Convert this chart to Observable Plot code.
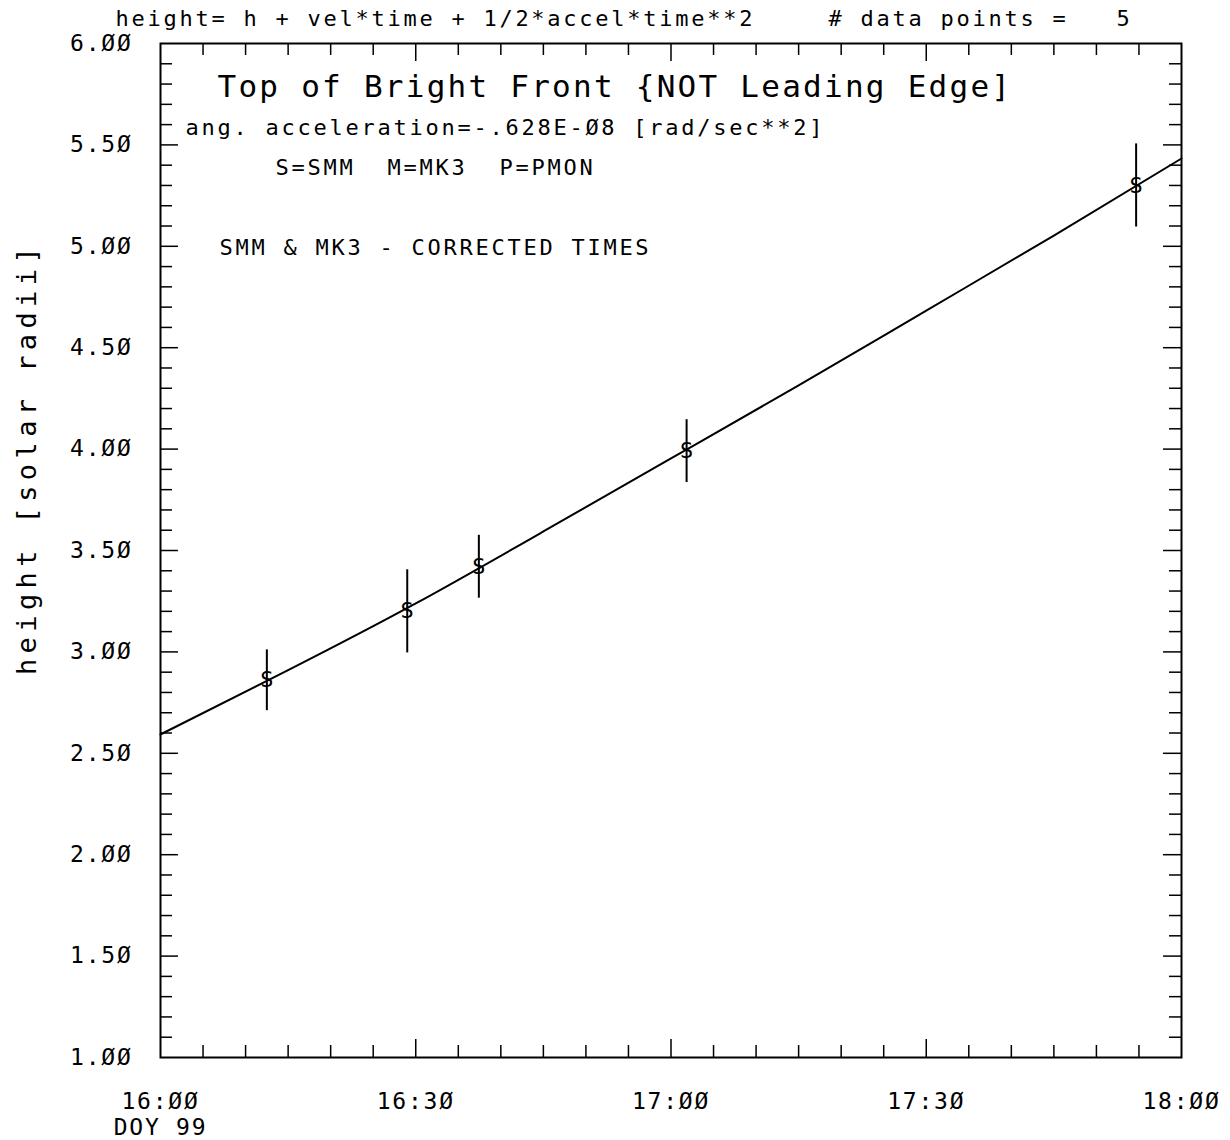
<!DOCTYPE html>
<html>
<head>
<meta charset="utf-8">
<script src="https://cdn.jsdelivr.net/npm/d3@7"></script>
<script src="https://cdn.jsdelivr.net/npm/@observablehq/plot@0.6"></script>
<style>
  html, body { margin: 0; padding: 0; background: #fff; }
  svg text { white-space: pre; }
</style>
</head>
<body>
<script>
// ---- data ----
const pointTimes   = ["16:12:30", "16:29:00", "16:37:25", "17:01:50", "17:54:40"];
const pointHeights = [2.86, 3.20, 3.42, 3.99, 5.30];
const pointErrors  = [0.15, 0.205, 0.155, 0.155, 0.205];
const pointSymbols = ["S", "S", "S", "S", "S"];

const fitTimes   = ["16:00", "16:15", "16:30", "16:45", "17:00", "17:15", "17:30", "17:45", "18:00"];
const fitHeights = [2.593, 2.91, 3.239, 3.594, 3.954, 4.314, 4.683, 5.053, 5.433];

const xTickLabels = ["16:00", "16:30", "17:00", "17:30", "18:00"];
const yTickValues = [1.0, 1.5, 2.0, 2.5, 3.0, 3.5, 4.0, 4.5, 5.0, 5.5, 6.0];
const doyLabel = "DOY 99";

const headerLeft  = "height= h + vel*time + 1/2*accel*time**2";
const headerRight = "# data points =   5";
const titleText   = "Top of Bright Front {NOT Leading Edge]";
const accelText   = "ang. acceleration=-.628E-Ø8 [rad/sec**2]";
const legendText  = "S=SMM  M=MK3  P=PMON";
const noteText    = "SMM & MK3 - CORRECTED TIMES";
const yLabel      = "height [solar radii]";

// ---- helpers ----
const parseT = s => {
  const [h, m, sec = 0] = s.split(":").map(Number);
  return new Date(Date.UTC(1999, 3, 9, h, m, sec));
};
const slash = s => s.replace(/0/g, "Ø");

const points = pointTimes.map((t, i) => ({
  time: parseT(t), h: pointHeights[i],
  lo: pointHeights[i] - pointErrors[i], hi: pointHeights[i] + pointErrors[i],
  sym: pointSymbols[i]
}));
const fit = fitTimes.map((t, i) => ({time: parseT(t), h: fitHeights[i]}));

const xMajor = xTickLabels.map(parseT);
const xStart = xMajor[0], xEnd = xMajor[xMajor.length - 1];
const xMinor = d3.utcMinute.every(5).range(xStart, xEnd).filter(d => d.getUTCMinutes() % 30 !== 0);
const xMajorInner = xMajor.slice(1, -1);
const yMinor = d3.range(11, 60).map(i => i / 10).filter(v => Math.round(v * 10) % 5 !== 0);
const yMajorInner = yTickValues.slice(1, -1);

const W = 1230, H = 1140, mL = 160, mR = 49, mT = 43, mB = 83;
const fw = W - mL - mR, fh = H - mT - mB;
const minorLen = 12, majorLen = 18;

const chart = Plot.plot({
  width: W, height: H,
  marginLeft: mL, marginRight: mR, marginTop: mT, marginBottom: mB,
  style: {fontFamily: "'DejaVu Sans Mono', monospace", background: "#fff", color: "#000"},
  x: {type: "utc", domain: [xStart, xEnd]},
  y: {domain: [1, 6]},
  marks: [
    // inward ticks
    Plot.tickX(xMinor, {x: d => d, insetTop: fh - minorLen, strokeWidth: 1.5, stroke: "#000"}),
    Plot.tickX(xMinor, {x: d => d, insetBottom: fh - minorLen, strokeWidth: 1.5, stroke: "#000"}),
    Plot.tickX(xMajorInner, {x: d => d, insetTop: fh - majorLen, strokeWidth: 1.5, stroke: "#000"}),
    Plot.tickX(xMajorInner, {x: d => d, insetBottom: fh - majorLen, strokeWidth: 1.5, stroke: "#000"}),
    Plot.tickY(yMinor, {y: d => d, insetRight: fw - minorLen, strokeWidth: 1.5, stroke: "#000"}),
    Plot.tickY(yMinor, {y: d => d, insetLeft: fw - minorLen, strokeWidth: 1.5, stroke: "#000"}),
    Plot.tickY(yMajorInner, {y: d => d, insetRight: fw - majorLen, strokeWidth: 1.5, stroke: "#000"}),
    Plot.tickY(yMajorInner, {y: d => d, insetLeft: fw - majorLen, strokeWidth: 1.5, stroke: "#000"}),
    Plot.frame({stroke: "#000", strokeWidth: 2}),
    // axes labels
    Plot.axisX({
      ticks: xMajor, tickSize: 0, tickPadding: 33, fontSize: 23, lineHeight: 1.13,
      label: null,
      tickFormat: d => {
        const s = slash(d3.utcFormat("%H:%M")(d));
        return +d === +xStart ? s + "\n" + doyLabel : s;
      }
    }),
    Plot.axisY({
      ticks: yTickValues, tickSize: 0, tickPadding: 28, fontSize: 23,
      label: null, tickFormat: d => slash(d.toFixed(2))
    }),
    // fit curve and data
    Plot.line(fit, {x: "time", y: "h", stroke: "#000", strokeWidth: 2, curve: "natural"}),
    Plot.ruleX(points, {x: "time", y1: "lo", y2: "hi", stroke: "#000", strokeWidth: 2}),
    Plot.text(points, {x: "time", y: "h", text: "sym", fontSize: 22, fill: "#000"}),
    // annotations
    Plot.text([headerLeft], {frameAnchor: "top-left", textAnchor: "start", lineAnchor: "middle", dx: -45, dy: -25, fontSize: 22, fill: "#000"}),
    Plot.text([headerRight], {frameAnchor: "top-left", textAnchor: "start", lineAnchor: "middle", dx: 668, dy: -25, fontSize: 22, fill: "#000"}),
    Plot.text([titleText], {frameAnchor: "top-left", textAnchor: "start", lineAnchor: "middle", dx: 57, dy: 44, fontSize: 31, fill: "#000"}),
    Plot.text([accelText], {frameAnchor: "top-left", textAnchor: "start", lineAnchor: "middle", dx: 25, dy: 84, fontSize: 22, fill: "#000"}),
    Plot.text([legendText], {frameAnchor: "top-left", textAnchor: "start", lineAnchor: "middle", dx: 115, dy: 124, fontSize: 22, fill: "#000"}),
    Plot.text([noteText], {frameAnchor: "top-left", textAnchor: "start", lineAnchor: "middle", dx: 59, dy: 204, fontSize: 22, fill: "#000"}),
    Plot.text([yLabel], {frameAnchor: "left", textAnchor: "middle", lineAnchor: "middle", rotate: -90, dx: -133, dy: -92, fontSize: 27, fill: "#000"})
  ]
});

document.body.append(chart);

// letter spacing to mimic the wide plotter font
const lsMap = {22: 2.75, 23: 1.75, 31: 2.25, 27: 5.4};
chart.querySelectorAll("text").forEach(t => {
  if (t.textContent === "S") return;
  const fs = Math.round(parseFloat(getComputedStyle(t).fontSize));
  if (lsMap[fs] != null) t.setAttribute("letter-spacing", lsMap[fs]);
});
</script>
</body>
</html>
